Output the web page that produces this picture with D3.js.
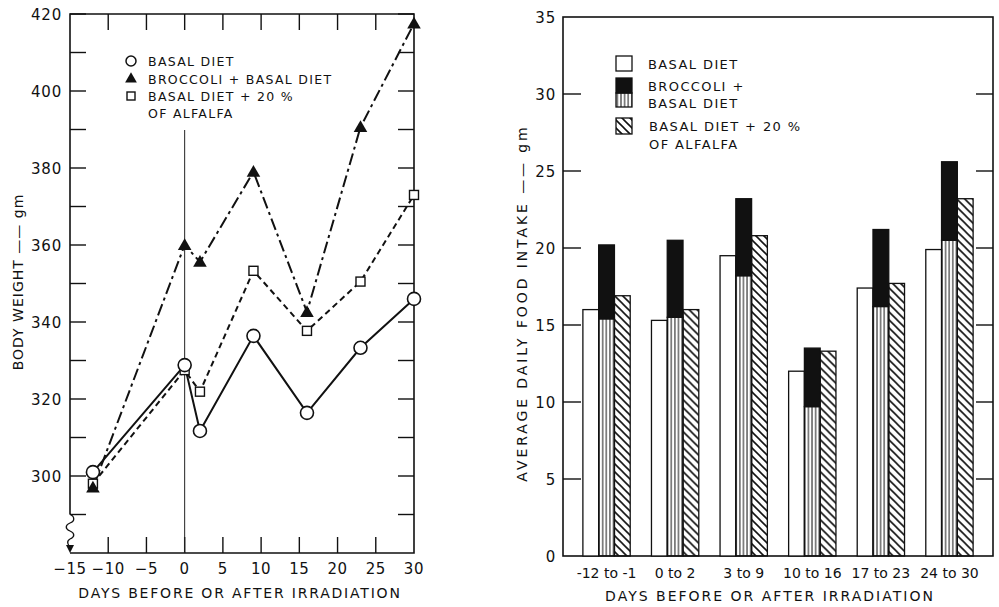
<!DOCTYPE html>
<html>
<head>
<meta charset="utf-8">
<script src="https://cdn.jsdelivr.net/npm/d3@7"></script>
<style>
body { margin: 0; background: #fff; }
text { font-family: "DejaVu Sans", "Liberation Sans", sans-serif; fill: #111; }
</style>
</head>
<body>
<svg id="view" width="999" height="607"></svg>
<script>
// left chart: body weight
var days = [-12, 0, 2, 9, 16, 23, 30];
var basalWeight = [301, 328.8, 311.7, 336.4, 316.4, 333.3, 346];
var broccoliWeight = [297, 360, 355.6, 379, 342.6, 390.6, 417.5];
var alfalfaWeight = [298, 327.5, 321.9, 353.3, 337.7, 350.5, 373];
var weightTicks = [300, 320, 340, 360, 380, 400, 420];
var dayTicks = [-15, -10, -5, 0, 5, 10, 15, 20, 25, 30];

// right chart: food intake
var periods = ["-12 to -1", "0 to 2", "3 to 9", "10 to 16", "17 to 23", "24 to 30"];
var basalIntake = [16.0, 15.3, 19.5, 12.0, 17.4, 19.9];
var broccoliBasalPart = [15.4, 15.5, 18.2, 9.7, 16.2, 20.5];
var broccoliTotal = [20.2, 20.5, 23.2, 13.5, 21.2, 25.6];
var alfalfaIntake = [16.9, 16.0, 20.8, 13.3, 17.7, 23.2];
var intakeTicks = [0, 5, 10, 15, 20, 25, 30, 35];

var svg = d3.select("#view");

var defs = svg.append("defs");
defs.append("pattern").attr("id", "vstripe")
	.attr("patternUnits", "userSpaceOnUse").attr("width", 3.6).attr("height", 10)
	.append("line").attr("x1", 1.8).attr("x2", 1.8).attr("y1", 0).attr("y2", 10)
	.attr("stroke", "#111").attr("stroke-width", 1);
var hp = defs.append("pattern").attr("id", "hatch")
	.attr("patternUnits", "userSpaceOnUse").attr("width", 8).attr("height", 8);
hp.append("path").attr("d", "M0,0 L8,8 M-2,6 L2,10 M6,-2 L10,2")
	.attr("stroke", "#111").attr("stroke-width", 1.6);

// ---------- left chart ----------
var x = d3.scaleLinear([-15, 30], [70, 414]);
var y = d3.scaleLinear([280, 420], [553, 14]);
var L = svg.append("g");

var minorY = d3.range(290, 421, 10);
var innerTicks = d3.range(-10, 26, 5);

// frame (left axis has a break near the bottom)
L.append("path").attr("fill", "none").attr("stroke", "#111").attr("stroke-width", 1.6)
	.attr("d", "M" + x(-15) + "," + y(290) + " L" + x(-15) + "," + y(420) + " L" + x(30) + "," + y(420) +
		" L" + x(30) + "," + y(280) + " L" + x(-15) + "," + y(280));
L.append("path").attr("fill", "none").attr("stroke", "#111").attr("stroke-width", 1.3)
	.attr("d", "M70,514 C75,517 75,521 70,523 C65,525 65,529 70,531 C75,533 75,537 70,539 C66,541 68,545 70,547 L70,550");
L.append("path").attr("fill", "#111").attr("d", "M66,545 L74,545 L70,553 Z");

L.selectAll(".yl").data(minorY).join("line")
	.attr("x1", x(-15)).attr("x2", x(-15) + 16).attr("y1", d => y(d)).attr("y2", d => y(d))
	.attr("stroke", "#111").attr("stroke-width", 1.4);
L.selectAll(".yr").data(minorY).join("line")
	.attr("x1", x(30)).attr("x2", x(30) - 16).attr("y1", d => y(d)).attr("y2", d => y(d))
	.attr("stroke", "#111").attr("stroke-width", 1.4);
L.selectAll(".xt").data(innerTicks).join("line")
	.attr("x1", d => x(d)).attr("x2", d => x(d)).attr("y1", y(420)).attr("y2", y(420) + 16)
	.attr("stroke", "#111").attr("stroke-width", 1.4);
L.selectAll(".xb").data(innerTicks).join("line")
	.attr("x1", d => x(d)).attr("x2", d => x(d)).attr("y1", y(280)).attr("y2", y(280) - 16)
	.attr("stroke", "#111").attr("stroke-width", 1.4);
// irradiation line at day 0
L.append("line").attr("x1", x(0)).attr("x2", x(0)).attr("y1", 130).attr("y2", y(280))
	.attr("stroke", "#222").attr("stroke-width", 1);

L.selectAll(".ylab").data(weightTicks).join("text")
	.attr("x", 62).attr("y", d => y(d) + 5.5).attr("text-anchor", "end")
	.attr("font-size", 15).attr("letter-spacing", 0.8).text(d => d);
L.selectAll(".xlab").data(dayTicks).join("text")
	.attr("x", d => x(d)).attr("y", 574).attr("text-anchor", "middle")
	.attr("font-size", 15).attr("letter-spacing", 0.6).text(d => d < 0 ? "\u2212" + (-d) : d);
L.append("text").attr("x", 240).attr("y", 598).attr("text-anchor", "middle")
	.attr("font-size", 14).attr("letter-spacing", 1.8).text("DAYS BEFORE OR AFTER IRRADIATION");
L.append("text").attr("transform", "translate(23,282) rotate(-90)").attr("text-anchor", "middle")
	.attr("font-size", 14).attr("letter-spacing", 1).text("BODY WEIGHT \u2014\u2014 gm");

var line = d3.line().x((d, i) => x(days[i])).y(d => y(d));
L.append("path").datum(alfalfaWeight).attr("d", line).attr("fill", "none")
	.attr("stroke", "#111").attr("stroke-width", 2).attr("stroke-dasharray", "6,4");
L.append("path").datum(broccoliWeight).attr("d", line).attr("fill", "none")
	.attr("stroke", "#111").attr("stroke-width", 2).attr("stroke-dasharray", "12,4,3,4");
L.append("path").datum(basalWeight).attr("d", line).attr("fill", "none")
	.attr("stroke", "#111").attr("stroke-width", 2);

var tri = d3.symbol().type(d3.symbolTriangle).size(80);
L.selectAll(".sq").data(alfalfaWeight).join("rect")
	.attr("x", (d, i) => x(days[i]) - 4.5).attr("y", d => y(d) - 4.5).attr("width", 9).attr("height", 9)
	.attr("fill", "#fff").attr("stroke", "#111").attr("stroke-width", 1.4);
L.selectAll(".tr").data(broccoliWeight).join("path")
	.attr("d", tri).attr("transform", (d, i) => "translate(" + x(days[i]) + "," + (y(d) + 1) + ")")
	.attr("fill", "#111");
L.selectAll(".ci").data(basalWeight).join("circle")
	.attr("cx", (d, i) => x(days[i])).attr("cy", d => y(d)).attr("r", 6.5)
	.attr("fill", "#fff").attr("stroke", "#111").attr("stroke-width", 1.6);

// legend
var lg = L.append("g").attr("font-size", 12.5).attr("letter-spacing", 1.3);
lg.append("circle").attr("cx", 131).attr("cy", 61).attr("r", 5).attr("fill", "#fff").attr("stroke", "#111").attr("stroke-width", 1.5);
lg.append("path").attr("d", d3.symbol().type(d3.symbolTriangle).size(60)).attr("transform", "translate(131,79)").attr("fill", "#111");
lg.append("rect").attr("x", 127).attr("y", 92).attr("width", 8).attr("height", 8).attr("fill", "#fff").attr("stroke", "#111").attr("stroke-width", 1.4);
lg.append("text").attr("x", 148).attr("y", 66).text("BASAL DIET");
lg.append("text").attr("x", 148).attr("y", 84).text("BROCCOLI + BASAL DIET");
lg.append("text").attr("x", 148).attr("y", 101).text("BASAL DIET + 20 %");
lg.append("text").attr("x", 148).attr("y", 118).text("OF ALFALFA");

// ---------- right chart ----------
var xb = d3.scaleBand(periods, [563, 993]).paddingInner(0.31).paddingOuter(0.29);
var xs = d3.scaleBand([0, 1, 2], [0, xb.bandwidth()]);
var yb = d3.scaleLinear([0, 35], [556, 17]);
var R = svg.append("g");

R.append("rect").attr("x", 563).attr("y", yb(35)).attr("width", 430).attr("height", yb(0) - yb(35))
	.attr("fill", "none").attr("stroke", "#111").attr("stroke-width", 1.6);
R.selectAll(".tl").data(intakeTicks.slice(1, -1)).join("line")
	.attr("x1", 563).attr("x2", 581).attr("y1", d => yb(d)).attr("y2", d => yb(d))
	.attr("stroke", "#111").attr("stroke-width", 1.4);
R.selectAll(".tr2").data(intakeTicks.slice(1, -1)).join("line")
	.attr("x1", 993).attr("x2", 976).attr("y1", d => yb(d)).attr("y2", d => yb(d))
	.attr("stroke", "#111").attr("stroke-width", 1.4);
R.selectAll(".ylab").data(intakeTicks).join("text")
	.attr("x", 556).attr("y", d => yb(d) + 5.5).attr("text-anchor", "end")
	.attr("font-size", 15).attr("letter-spacing", 0.8).text(d => d);
R.selectAll(".xlab").data(periods).join("text")
	.attr("x", d => xb(d) + xb.bandwidth() / 2).attr("y", 578).attr("text-anchor", "middle")
	.attr("font-size", 14).text(d => d);
R.append("text").attr("x", 770).attr("y", 601).attr("text-anchor", "middle")
	.attr("font-size", 14).attr("letter-spacing", 2).text("DAYS BEFORE OR AFTER IRRADIATION");
R.append("text").attr("transform", "translate(527,303) rotate(-90)").attr("text-anchor", "middle")
	.attr("font-size", 14).attr("letter-spacing", 2.9).text("AVERAGE DAILY FOOD INTAKE \u2014\u2014 gm");

var bars = R.selectAll(".grp").data(periods).join("g")
	.attr("transform", d => "translate(" + xb(d) + ",0)");
bars.append("rect").attr("x", xs(0)).attr("width", xs.bandwidth())
	.attr("y", (d, i) => yb(basalIntake[i])).attr("height", (d, i) => yb(0) - yb(basalIntake[i]))
	.attr("fill", "#fff").attr("stroke", "#111").attr("stroke-width", 1.3);
bars.append("rect").attr("x", xs(1)).attr("width", xs.bandwidth())
	.attr("y", (d, i) => yb(broccoliBasalPart[i])).attr("height", (d, i) => yb(0) - yb(broccoliBasalPart[i]))
	.attr("fill", "url(#vstripe)").attr("stroke", "#111").attr("stroke-width", 1.3);
bars.append("rect").attr("x", xs(1)).attr("width", xs.bandwidth())
	.attr("y", (d, i) => yb(broccoliTotal[i])).attr("height", (d, i) => yb(broccoliBasalPart[i]) - yb(broccoliTotal[i]))
	.attr("fill", "#111").attr("stroke", "#111").attr("stroke-width", 1.3);
bars.append("rect").attr("x", xs(2)).attr("width", xs.bandwidth())
	.attr("y", (d, i) => yb(alfalfaIntake[i])).attr("height", (d, i) => yb(0) - yb(alfalfaIntake[i]))
	.attr("fill", "url(#hatch)").attr("stroke", "#111").attr("stroke-width", 1.3);

// legend
var lg2 = R.append("g").attr("font-size", 13).attr("letter-spacing", 1.4);
lg2.append("rect").attr("x", 616).attr("y", 56).attr("width", 16).attr("height", 15).attr("fill", "#fff").attr("stroke", "#111").attr("stroke-width", 1.3);
lg2.append("rect").attr("x", 616).attr("y", 78).attr("width", 16).attr("height", 15).attr("fill", "#111").attr("stroke", "#111").attr("stroke-width", 1.3);
lg2.append("rect").attr("x", 616).attr("y", 93).attr("width", 16).attr("height", 14).attr("fill", "url(#vstripe)").attr("stroke", "#111").attr("stroke-width", 1.3);
lg2.append("rect").attr("x", 616).attr("y", 118).attr("width", 16).attr("height", 16).attr("fill", "url(#hatch)").attr("stroke", "#111").attr("stroke-width", 1.3);
lg2.append("text").attr("x", 648).attr("y", 69).text("BASAL DIET");
lg2.append("text").attr("x", 648).attr("y", 91).text("BROCCOLI +");
lg2.append("text").attr("x", 648).attr("y", 108).text("BASAL DIET");
lg2.append("text").attr("x", 649).attr("y", 131).text("BASAL DIET + 20 %");
lg2.append("text").attr("x", 649).attr("y", 149).text("OF ALFALFA");
</script>
</body>
</html>
